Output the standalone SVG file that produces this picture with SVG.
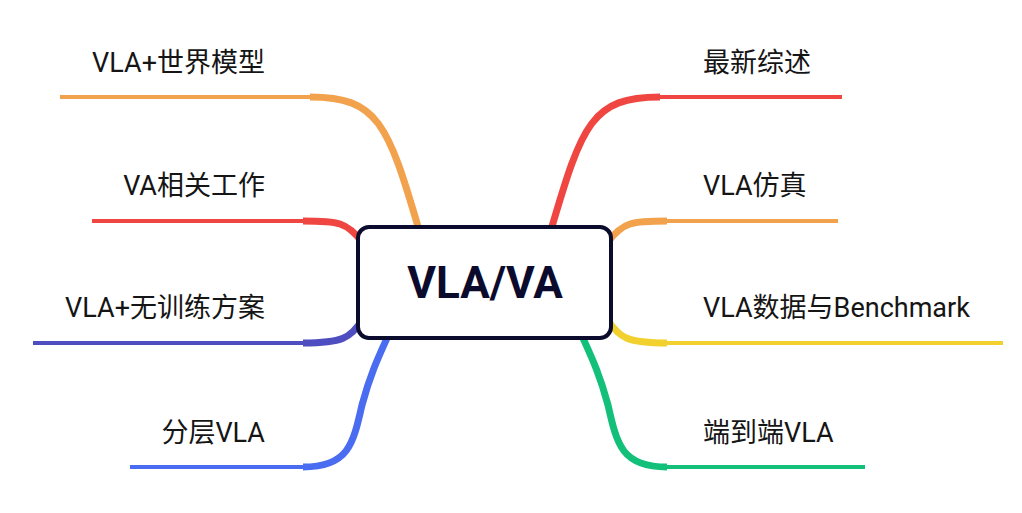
<svg xmlns="http://www.w3.org/2000/svg" width="1022" height="513" viewBox="0 0 1022 513">
<style>
.ln{fill:none;stroke-width:4;stroke-linecap:butt}
.cv{fill:none;stroke-width:7;stroke-linecap:butt}
.lbl{font-family:Roboto,"Noto Sans CJK SC",sans-serif;font-size:27px;fill:#151515}
.ttl{font-family:Roboto,"Noto Sans CJK SC",sans-serif;font-size:44px;font-weight:700;fill:#0b0b2e}
</style>
<rect width="1022" height="513" fill="#ffffff"/>
<g id="connectors">
<g stroke="#f2a24c"><path class="ln" d="M60,97 H312"/><path class="cv" d="M310,97 C378,97 388,124 419,230"/></g>
<g stroke="#f04642"><path class="ln" d="M92,221 H305"/><path class="cv" d="M303,221 C338,221 347,222 362,242"/></g>
<g stroke="#4e4ec0"><path class="ln" d="M33,343 H305"/><path class="cv" d="M303,343 C342,343 351,338 362,320"/></g>
<g stroke="#4a6cf0"><path class="ln" d="M130,467 H305"/><path class="cv" d="M303,467 C348,467 353,445 362,405 C370,375 378,358 388,336"/></g>
<g stroke="#f04642"><path class="ln" d="M658,97 H842"/><path class="cv" d="M660,97 C592,97 582,124 551,230"/></g>
<g stroke="#f2a24c"><path class="ln" d="M665,221 H838"/><path class="cv" d="M667,221 C632,221 623,222 608,242"/></g>
<g stroke="#f2d02e"><path class="ln" d="M665,343 H1003"/><path class="cv" d="M667,343 C628,343 619,338 608,320"/></g>
<g stroke="#12c07a"><path class="ln" d="M665,467 H865"/><path class="cv" d="M667,467 C622,467 617,445 608,405 C600,375 592,358 582,336"/></g>
</g>
<g id="center">
<rect x="358" y="227" width="253" height="111" rx="11" fill="#ffffff" stroke="#0b0b2e" stroke-width="4"/>
<text class="ttl" x="485" y="298" text-anchor="middle">VLA/VA</text>
</g>
<g id="n-world"><text class="lbl" x="265" y="72" text-anchor="end">VLA+世界模型</text></g>
<g id="n-va"><text class="lbl" x="265" y="195" text-anchor="end">VA相关工作</text></g>
<g id="n-free"><text class="lbl" x="265" y="317" text-anchor="end">VLA+无训练方案</text></g>
<g id="n-hier"><text class="lbl" x="265" y="442" text-anchor="end">分层VLA</text></g>
<g id="n-survey"><text class="lbl" x="703" y="72">最新综述</text></g>
<g id="n-sim"><text class="lbl" x="703" y="195">VLA仿真</text></g>
<g id="n-data"><text class="lbl" x="703" y="317">VLA数据与Benchmark</text></g>
<g id="n-e2e"><text class="lbl" x="703" y="442">端到端VLA</text></g>
</svg>
